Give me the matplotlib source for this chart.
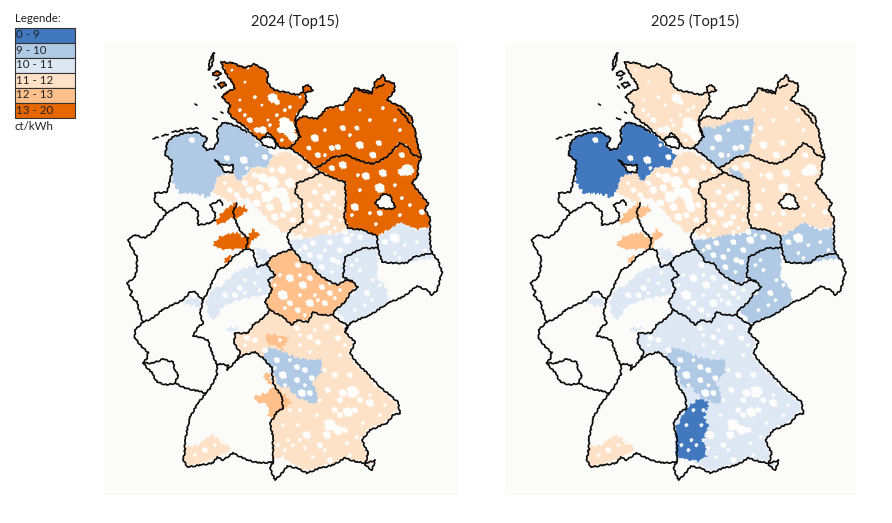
# Strompreise Deutschland: Top15 Tarife je Netzgebiet, 2024 und 2025
import matplotlib
matplotlib.use('Agg')
import matplotlib.pyplot as plt
from matplotlib.patches import Polygon, Rectangle, Circle

plt.rcParams['font.family'] = ['Lato', 'DejaVu Sans']

# legend classes
class_labels = ['0 - 9', '9 - 10', '10 - 11', '11 - 12', '12 - 13', '13 - 20']
class_colors = ['#4178BE', '#B0CAE6', '#DEE8F4', '#FEE2C8', '#FFC08C', '#E66700']
panel_titles = ['2024 (Top15)', '2025 (Top15)']
unit_label = 'ct/kWh'

# state shapes, map units = pixels of the 2024 panel
sh = [(221, 62), (233, 63), (245, 68), (254, 64), (262, 68), (268, 72), (267, 82), (274, 90), (285, 92), (298, 95),
      (303, 92), (303, 87), (308, 85), (313, 90), (305, 93), (307, 102), (298, 113), (295, 120), (297, 128), (300, 137),
      (290, 148), (280, 148), (272, 137), (265, 137), (260, 140), (253, 135), (245, 127), (233, 118), (228, 112),
      (230, 105), (222, 97), (227, 92), (235, 88), (232, 82), (225, 72)]
hamburg = [(260, 140), (268, 133), (273, 137), (277, 143), (275, 148), (268, 147), (263, 145)]
mv = [(297, 120), (303, 116), (317, 119), (327, 108), (343, 105), (350, 97), (355, 88), (372, 92), (375, 82), (383, 75),
      (386, 81), (394, 83), (395, 90), (387, 100), (397, 105), (402, 107), (412, 118), (413, 126), (415, 130), (417, 142),
      (421, 157), (413, 155), (408, 147), (400, 143), (393, 150), (387, 157), (373, 164), (360, 161), (347, 155),
      (333, 157), (320, 166), (315, 168), (300, 155), (290, 148), (300, 137), (295, 125)]
bb_north = [(421, 157), (418, 165), (418, 175), (412, 183), (420, 193), (428, 203), (425, 210), (430, 217), (430, 228),
            (427, 228), (417, 230), (400, 223), (385, 232), (377, 237), (363, 230), (348, 228), (344, 217), (346, 203),
            (345, 182), (333, 178), (320, 172), (315, 168), (320, 166), (333, 157), (347, 155), (360, 161), (373, 164),
            (387, 157), (393, 150), (400, 143), (408, 147), (413, 155)]
bb_south = [(377, 237), (385, 232), (400, 223), (417, 230), (427, 228), (430, 228), (430, 243), (432, 253), (413, 257),
            (407, 263), (393, 263), (382, 262), (378, 248)]
berlin = [(375, 203), (383, 194), (390, 195), (395, 207), (393, 209), (380, 208)]
bremen = [(215, 160), (223, 165), (233, 165), (233, 172), (225, 172), (220, 165)]
thuringia = [(270, 310), (265, 302), (272, 290), (268, 280), (275, 275), (267, 265), (270, 258), (280, 253), (292, 249),
             (298, 255), (302, 262), (310, 263), (317, 273), (327, 280), (338, 285), (345, 280), (352, 281), (358, 287),
             (350, 293), (345, 302), (335, 310), (333, 315), (322, 315), (313, 312), (308, 322), (297, 320), (292, 325),
             (283, 317)]
bavaria = [(270, 310), (263, 318), (253, 325), (248, 333), (235, 333), (234, 343), (240, 352), (237, 360), (243, 355),
           (255, 352), (263, 358), (272, 368), (273, 383), (282, 397), (283, 408), (277, 412), (270, 423), (273, 437),
           (273, 462), (270, 468), (275, 480), (283, 472), (287, 466), (297, 468), (307, 473), (320, 468), (333, 465),
           (345, 458), (357, 462), (367, 463), (375, 460), (372, 470), (365, 465), (368, 453), (362, 440), (370, 430),
           (387, 423), (393, 415), (400, 413), (398, 402), (390, 395), (380, 387), (367, 373), (357, 363), (350, 353),
           (355, 342), (345, 332), (347, 325), (342, 322), (335, 317), (333, 315), (322, 315), (313, 312), (308, 322),
           (297, 320), (292, 325), (283, 317)]
bw = [(273, 462), (260, 463), (247, 460), (233, 453), (223, 460), (217, 457), (213, 463), (200, 465), (188, 467),
      (183, 460), (185, 450), (185, 440), (190, 417), (198, 403), (206, 393), (210, 388), (217, 375), (217, 365),
      (220, 364), (228, 365), (227, 370), (237, 360), (243, 355), (255, 352), (263, 358), (272, 368), (273, 383),
      (282, 397), (283, 408), (277, 412), (270, 423), (273, 437)]
rp = [(206, 393), (198, 391), (185, 388), (175, 383), (167, 385), (157, 382), (152, 373), (143, 363), (147, 358),
      (148, 352), (142, 347), (135, 338), (135, 330), (143, 322), (153, 318), (162, 310), (172, 305), (183, 300),
      (190, 292), (195, 292), (203, 300), (200, 313), (203, 323), (197, 328), (193, 336), (200, 337), (208, 340),
      (212, 353), (217, 365), (217, 375), (210, 388)]
saarland = [(143, 363), (153, 363), (163, 359), (173, 362), (175, 370), (178, 375), (175, 383), (167, 385), (157, 382),
            (152, 373)]
hesse = [(203, 300), (207, 293), (218, 270), (227, 265), (233, 257), (246, 249), (253, 250), (255, 260), (258, 267),
         (267, 263), (267, 265), (275, 275), (268, 280), (272, 290), (265, 302), (270, 310), (263, 318), (253, 325),
         (248, 333), (235, 333), (234, 343), (240, 352), (237, 360), (227, 370), (228, 365), (220, 364), (217, 365),
         (212, 353), (208, 340), (200, 337), (193, 336), (197, 328), (203, 323), (200, 313)]

# borders that are lines only
ni_coast = [(247, 132), (237, 126), (228, 123), (222, 123), (217, 130), (218, 140), (214, 148), (207, 150), (203, 146),
            (207, 138), (197, 132), (185, 133), (172, 137), (167, 143), (165, 155), (172, 160), (172, 170), (170, 180),
            (167, 192), (155, 193), (155, 202), (167, 213)]
nrw_west = [(167, 213), (158, 223), (155, 230), (145, 238), (135, 235), (130, 238), (128, 240), (132, 248), (137, 257),
            (137, 267), (135, 277), (127, 283), (132, 292), (130, 295), (137, 302), (140, 313), (143, 322)]
nrw_north = [(167, 213), (172, 210), (183, 203), (188, 203), (198, 212), (198, 225), (210, 223), (215, 220), (215, 213),
             (210, 205), (220, 200), (223, 205)]
nrw_east = [(237, 203), (233, 212), (237, 225), (242, 233), (248, 238), (246, 249)]
sa_west = [(320, 172), (313, 177), (297, 183), (295, 193), (302, 200), (302, 210), (303, 222), (290, 230), (287, 237),
           (292, 249)]
sa_east = [(315, 168), (320, 172), (333, 178), (345, 182), (346, 203), (344, 217), (348, 228), (363, 230), (377, 236),
           (378, 248)]
saxony_west = [(378, 248), (363, 248), (345, 257), (343, 277), (352, 281)]
saxony_north = [(378, 248), (382, 262), (393, 263), (407, 263), (413, 257), (432, 253)]
oder = [(421, 157), (418, 165), (418, 175), (412, 183), (420, 193), (428, 203), (425, 210), (430, 217), (430, 228)]
east_border = [(430, 228), (430, 243), (432, 253), (438, 260), (442, 272), (437, 290), (432, 295), (427, 290), (417, 286),
               (403, 297), (390, 302), (370, 315), (350, 323), (347, 329), (345, 332)]
island_foehr = [(213, 73), (218, 71), (221, 74), (217, 76), (213, 75), (213, 73)]
island_amrum = [(218, 84), (224, 82), (226, 85), (221, 88), (218, 84)]
islands = [[(214, 53), (211, 57), (209, 64), (209, 70), (212, 66), (213, 58), (214, 53)],
           island_foehr, island_amrum, [(216, 80), (219, 78)], [(214, 86), (216, 88)],
           [(153, 139), (158, 137)], [(162, 136), (168, 134)], [(172, 132), (183, 130)], [(187, 129), (198, 128)],
           [(195, 104), (197, 105)], [(221, 112), (223, 113)], [(213, 118), (217, 120)],
           [(398, 109), (405, 116), (410, 123)], [(358, 90), (372, 94)], [(376, 88), (384, 84)]]

# price zones that do not follow a state border
ni_north = [(172, 182), (180, 193), (203, 195), (207, 198), (215, 188), (217, 177), (233, 172), (238, 182), (247, 173),
            (253, 167), (267, 168), (273, 155), (263, 147), (257, 140), (247, 132), (237, 126), (228, 123), (222, 123),
            (217, 130), (218, 140), (214, 148), (207, 150), (203, 146), (207, 138), (197, 132), (185, 133), (172, 137),
            (167, 143), (165, 155), (172, 160)]
ni_mid = [(217, 177), (215, 188), (213, 193), (233, 203), (247, 197), (263, 213), (282, 233), (292, 230), (303, 222),
          (302, 200), (295, 193), (297, 183), (313, 177), (320, 172), (307, 163), (290, 152), (273, 155), (267, 168),
          (253, 167), (247, 173), (238, 182), (233, 172)]
sa_north = [(320, 172), (333, 178), (345, 182), (346, 203), (344, 217), (348, 228), (335, 235), (323, 235), (310, 238),
            (297, 238), (290, 230), (303, 222), (302, 200), (295, 193), (297, 183), (313, 177)]
sa_south = [(297, 238), (310, 238), (323, 235), (335, 235), (348, 228), (363, 230), (377, 236), (378, 248), (363, 248),
            (345, 257), (343, 277), (338, 285), (327, 280), (317, 273), (310, 263), (302, 262), (298, 255), (292, 249),
            (287, 240)]
saxony_zone = [(345, 257), (363, 248), (378, 248), (378, 265), (377, 277), (387, 288), (390, 301), (370, 315), (350, 323),
               (347, 325), (342, 317), (335, 310), (345, 302), (350, 293), (358, 287), (352, 281), (343, 277)]
saxony_band = [(407, 263), (413, 257), (432, 253), (437, 259), (420, 260)]
nrw_blob1 = [(215, 223), (222, 212), (228, 208), (236, 203), (238, 208), (245, 205), (248, 211), (240, 216), (237, 219),
             (230, 219), (226, 222), (220, 225)]
nrw_blob2 = [(213, 245), (218, 238), (223, 235), (238, 233), (243, 237), (247, 237), (253, 228), (260, 235), (252, 242),
             (248, 249), (235, 250), (227, 250), (218, 248)]
nrw_blob3 = [(224, 262), (228, 255), (232, 257), (228, 263)]
hesse_zone = [(240, 270), (253, 265), (267, 263), (272, 270), (275, 277), (268, 287), (268, 295), (250, 298), (235, 302),
              (225, 305), (215, 318), (212, 320), (208, 315), (206, 300), (212, 290), (222, 285), (232, 275)]
hesse_top = [(255, 248), (267, 250), (272, 258), (262, 262), (257, 258)]
hesse_strip = [(227, 328), (240, 327), (235, 331), (228, 331)]
rp_zone = [(182, 303), (190, 297), (197, 298), (201, 303), (200, 307), (188, 305)]
bavaria_zone = [(273, 460), (283, 456), (290, 463), (307, 471), (320, 466), (333, 463), (345, 456), (357, 460), (367, 461),
                (372, 459), (370, 467), (366, 463), (366, 453), (360, 440), (368, 429), (387, 421), (392, 413), (398, 411),
                (396, 403), (388, 396), (378, 388), (365, 374), (355, 364), (348, 353), (353, 342), (345, 332), (342, 322),
                (335, 317), (333, 315), (322, 315), (313, 312), (308, 322), (297, 320), (292, 325), (283, 317), (270, 310),
                (263, 318), (253, 325), (248, 333), (235, 333), (234, 343), (240, 352), (237, 360), (243, 355), (255, 352),
                (263, 358), (272, 368), (273, 383), (282, 397), (283, 408), (277, 412), (270, 423), (273, 437)]
bavaria_mid = [(263, 357), (270, 347), (285, 353), (295, 357), (313, 360), (322, 358), (322, 373), (313, 383), (317, 393),
               (318, 402), (310, 403), (297, 397), (287, 387), (280, 387), (273, 375), (267, 363)]
bavaria_spot = [(265, 335), (273, 334), (288, 338), (282, 350), (273, 345), (268, 345)]
bavaria_west = [(253, 397), (268, 392), (272, 387), (283, 393), (293, 403), (282, 410), (273, 420), (268, 417), (267, 405),
                (257, 402)]
bavaria_west2 = [(263, 375), (270, 372), (272, 385), (268, 382)]
bavaria_swabia = [(285, 407), (296, 398), (305, 403), (301, 417), (306, 427), (301, 433), (303, 457), (296, 462), (286, 460),
                  (273, 457), (272, 430), (276, 420)]
bw_south = [(185, 447), (197, 445), (213, 435), (220, 440), (232, 448), (227, 453), (213, 460), (200, 465), (188, 467),
            (183, 460)]
mv_west_zone = [(291, 148), (300, 127), (310, 128), (330, 120), (351, 118), (351, 128), (345, 153), (333, 157), (320, 166),
                (315, 168), (300, 155)]
bb_spot = [(323, 168), (336, 170), (341, 180), (331, 178)]

# zone class per year, index into class_labels
zones_2024 = [(sh, 5), (island_foehr, 5), (island_amrum, 5), (mv, 5), (bb_north, 5), (bb_south, 2), (ni_north, 1),
              (ni_mid, 3), (sa_north, 3), (sa_south, 2), (saxony_zone, 2), (saxony_band, 2), (thuringia, 4),
              (hesse_zone, 2), (hesse_top, 2), (hesse_strip, 2), (rp_zone, 2), (bavaria_zone, 3), (bavaria_mid, 1),
              (bavaria_spot, 4), (bavaria_west, 4), (bavaria_west2, 4), (bw_south, 3), (nrw_blob1, 5), (nrw_blob2, 5),
              (nrw_blob3, 5)]
zones_2025 = [(sh, 3), (mv, 3), (mv_west_zone, 1), (bb_north, 3), (bb_spot, 1), (bb_south, 1), (ni_north, 0), (ni_mid, 3),
              (sa_north, 3), (sa_south, 1), (saxony_zone, 1), (saxony_band, 1), (thuringia, 2), (hesse_zone, 2),
              (hesse_top, 2), (hesse_strip, 2), (rp_zone, 2), (bavaria_zone, 2), (bavaria_mid, 1), (bavaria_swabia, 0),
              (bw_south, 3), (nrw_blob1, 4), (nrw_blob2, 4), (nrw_blob3, 4)]

# areas without a Top15 value: x, y, radius
gaps = [(273, 98, 5), (232, 70, 1.5), (248, 68, 1.5), (255, 97, 2), (250, 120, 3), (263, 130, 4), (257, 130, 3),
        (288, 128, 8), (285, 123, 6), (293, 137, 5), (290, 107, 2), (300, 97, 1.5), (277, 115, 2), (268, 120, 1.5),
        (277, 102, 3), (245, 82, 1.5), (240, 100, 1.5), (285, 110, 2), (262, 105, 1.5), (270, 125, 2), (245, 115, 2),
        (240, 110, 2), (280, 130, 3), (282, 140, 2),
        (315, 138, 4), (343, 128, 3), (357, 128, 2.5), (342, 108, 3), (309, 148, 2.5), (332, 148, 3),
        (338, 147, 3), (318, 155, 3), (360, 145, 4), (379, 143, 3), (383, 108, 2), (402, 155, 3), (373, 155, 3.5),
        (325, 130, 2), (370, 120, 2), (395, 120, 2), (400, 130, 2), (350, 135, 2), (325, 155, 2), (360, 110, 1.5),
        (343, 165, 4), (332, 168, 3), (366, 176, 4), (383, 173, 4), (408, 170, 6), (402, 172, 4), (380, 188, 5),
        (355, 207, 4), (380, 213, 3), (402, 198, 2), (422, 212, 3), (376, 224, 2), (358, 175, 2), (395, 185, 2),
        (360, 190, 2), (410, 205, 2), (370, 213, 2), (400, 215, 2), (352, 215, 2),
        (192, 140, 3), (227, 158, 3), (244, 160, 4), (247, 168, 2), (265, 157, 3), (257, 145, 2),
        (263, 178, 5), (273, 182, 6), (267, 197, 6), (282, 193, 6), (290, 183, 5), (287, 207, 5), (275, 217, 4),
        (250, 190, 4), (257, 203, 4), (240, 200, 3), (293, 220, 3), (282, 170, 4), (300, 167, 3), (272, 170, 3),
        (255, 175, 3), (260, 188, 4), (275, 192, 5), (285, 200, 5), (295, 205, 3), (270, 207, 4), (283, 215, 3),
        (245, 183, 3), (230, 190, 3), (225, 183, 2), (237, 195, 3), (265, 225, 3), (275, 228, 3), (310, 170, 3),
        (327, 197, 4), (333, 193, 3), (317, 213, 4), (330, 217, 3), (300, 237, 3), (340, 220, 2), (327, 223, 3),
        (315, 192, 3), (322, 205, 2), (310, 205, 3), (335, 205, 2), (322, 225, 3), (310, 222, 3), (340, 208, 2),
        (305, 230, 2), (335, 228, 2), (320, 185, 2),
        (313, 243, 3), (330, 242, 3), (347, 240, 4), (360, 237, 3), (310, 255, 3), (320, 257, 3), (333, 260, 3),
        (300, 250, 2), (305, 247, 3), (325, 250, 2), (340, 250, 3), (338, 262, 3), (332, 272, 2), (322, 267, 3),
        (345, 232, 3), (330, 232, 2), (352, 235, 2),
        (367, 293, 3), (357, 260, 2), (353, 293, 2), (373, 280, 2), (360, 270, 2), (352, 265, 2), (365, 305, 2),
        (355, 310, 2), (372, 300, 2), (380, 285, 2),
        (395, 238, 5), (417, 242, 2), (395, 253, 2), (405, 245, 2), (385, 242, 3), (425, 250, 2), (400, 258, 2),
        (290, 278, 4), (303, 285, 4), (322, 287, 3), (283, 295, 5), (310, 303, 4), (330, 293, 3), (290, 303, 3),
        (280, 275, 2), (298, 265, 3), (275, 285, 2), (300, 275, 2), (310, 278, 3), (315, 295, 2), (325, 303, 3),
        (335, 298, 2), (300, 295, 2), (298, 310, 3), (285, 308, 2), (305, 315, 2), (318, 300, 2), (340, 290, 2),
        (330, 283, 2),
        (318, 342, 3), (327, 327, 3), (338, 338, 3), (300, 345, 2), (310, 352, 2), (350, 375, 3), (328, 390, 3),
        (353, 392, 6), (343, 393, 4), (340, 400, 3), (370, 403, 4), (348, 412, 5), (330, 425, 6), (338, 430, 5),
        (307, 435, 4), (298, 425, 2), (317, 415, 2), (327, 435, 4), (363, 423, 2), (357, 437, 2), (347, 443, 2),
        (313, 457, 2), (330, 460, 3), (297, 328, 3), (283, 375, 4), (297, 367, 3), (277, 360, 3), (297, 380, 3),
        (302, 393, 4), (247, 338, 3), (240, 288, 3), (225, 295, 3), (255, 283, 2), (280, 340, 2), (255, 340, 3),
        (265, 350, 3), (245, 345, 2), (300, 335, 2), (310, 337, 3), (315, 330, 2), (345, 345, 2), (340, 355, 2),
        (325, 370, 2), (335, 375, 3), (355, 355, 2), (370, 395, 2), (385, 405, 2), (355, 410, 3), (360, 400, 3),
        (340, 415, 3), (320, 445, 3), (345, 430, 3), (350, 455, 2), (305, 448, 2), (290, 410, 2), (300, 410, 2),
        (320, 400, 2), (335, 410, 3), (380, 415, 2), (325, 450, 2), (283, 425, 2), (288, 440, 2), (293, 445, 2),
        (278, 445, 2), (285, 450, 2), (300, 440, 2), (290, 360, 2), (305, 370, 3), (312, 378, 3), (275, 368, 2),
        (285, 385, 2), (305, 385, 2), (310, 393, 3),
        (235, 295, 3), (245, 293, 2), (222, 310, 2), (258, 272, 2), (260, 290, 2), (245, 280, 2),
        (195, 455, 2), (205, 450, 3), (215, 445, 2), (222, 443, 1.5)]

panel_color = '#FBFBF9'
gap_color = '#FDFDFC'
line_color = '#0A0A0A'
# x range of each panel in map units, the 2025 map sits 403.5 px further right
panel_xlim = [(104, 458), (101.5, 452.5)]
panel_px = [(104, 458), (505, 856)]
title_x = [295, 695]
closed_shapes = [sh, hamburg, mv, berlin, bremen, thuringia, bavaria, bw, rp, saarland, hesse]
open_lines = [ni_coast, nrw_west, nrw_north, nrw_east, sa_west, sa_east, saxony_west, saxony_north, oder, east_border]

W, H = 892, 523
fig = plt.figure(figsize=(W / 100, H / 100), dpi=100, facecolor='white')


def border_segments():
    # shared borders only once, otherwise the sketch gives double lines
    segs = set()
    for shape in closed_shapes:
        for a, b in zip(shape, shape[1:] + shape[:1]):
            segs.add((min(a, b), max(a, b)))
    for line in open_lines + islands:
        for a, b in zip(line, line[1:]):
            segs.add((min(a, b), max(a, b)))
    return sorted(segs)


def draw_map(ax, zones):
    ax.set_facecolor(panel_color)
    for shape, cls in zones:
        patch = Polygon(shape, closed=True, facecolor=class_colors[cls], edgecolor='none', zorder=1)
        patch.set_sketch_params(1.4, 7, 12)
        ax.add_patch(patch)
    for x, y, r in gaps:
        patch = Circle((x, y), r, facecolor=gap_color, edgecolor='none', zorder=2)
        patch.set_sketch_params(0.12 * r + 0.2, 2.5, 6)
        ax.add_patch(patch)
    for shape in [berlin, hamburg, bremen]:
        ax.add_patch(Polygon(shape, closed=True, facecolor=gap_color, edgecolor='none', zorder=2))
    for a, b in border_segments():
        ln, = ax.plot([a[0], b[0]], [a[1], b[1]], color=line_color, linewidth=1.2, solid_capstyle='round', zorder=3)
        ln.set_sketch_params(0.6, 6, 12)
    ax.set_ylim(495, 43)
    ax.set_xticks([])
    ax.set_yticks([])
    for s in ax.spines.values():
        s.set_visible(False)


for i, zones in enumerate([zones_2024, zones_2025]):
    x0, x1 = panel_px[i]
    ax = fig.add_axes([x0 / W, 1 - 495 / H, (x1 - x0) / W, (495 - 43) / H])
    draw_map(ax, zones)
    ax.set_xlim(*panel_xlim[i])
    fig.text(title_x[i] / W, 1 - 21 / H, panel_titles[i], ha='center', va='center', fontsize=10.5, color='#222222')

# legend
leg = fig.add_axes([0, 0, 1, 1], facecolor='none')
leg.set_xlim(0, W)
leg.set_ylim(H, 0)
leg.axis('off')
for i, (label, col) in enumerate(zip(class_labels, class_colors)):
    leg.add_patch(Rectangle((14.5, 27.5 + i * 15), 60, 15, facecolor=col, edgecolor='#333333', linewidth=0.8))
    leg.text(16.5, 35 + i * 15, label, va='center', ha='left', fontsize=8.3, color='#222222')
leg.text(14.5, 19, 'Legende:', va='center', ha='left', fontsize=8.3, color='#222222')
leg.text(14.5, 127, unit_label, va='center', ha='left', fontsize=8.3, color='#222222')

fig.savefig('out.png', dpi=100)
